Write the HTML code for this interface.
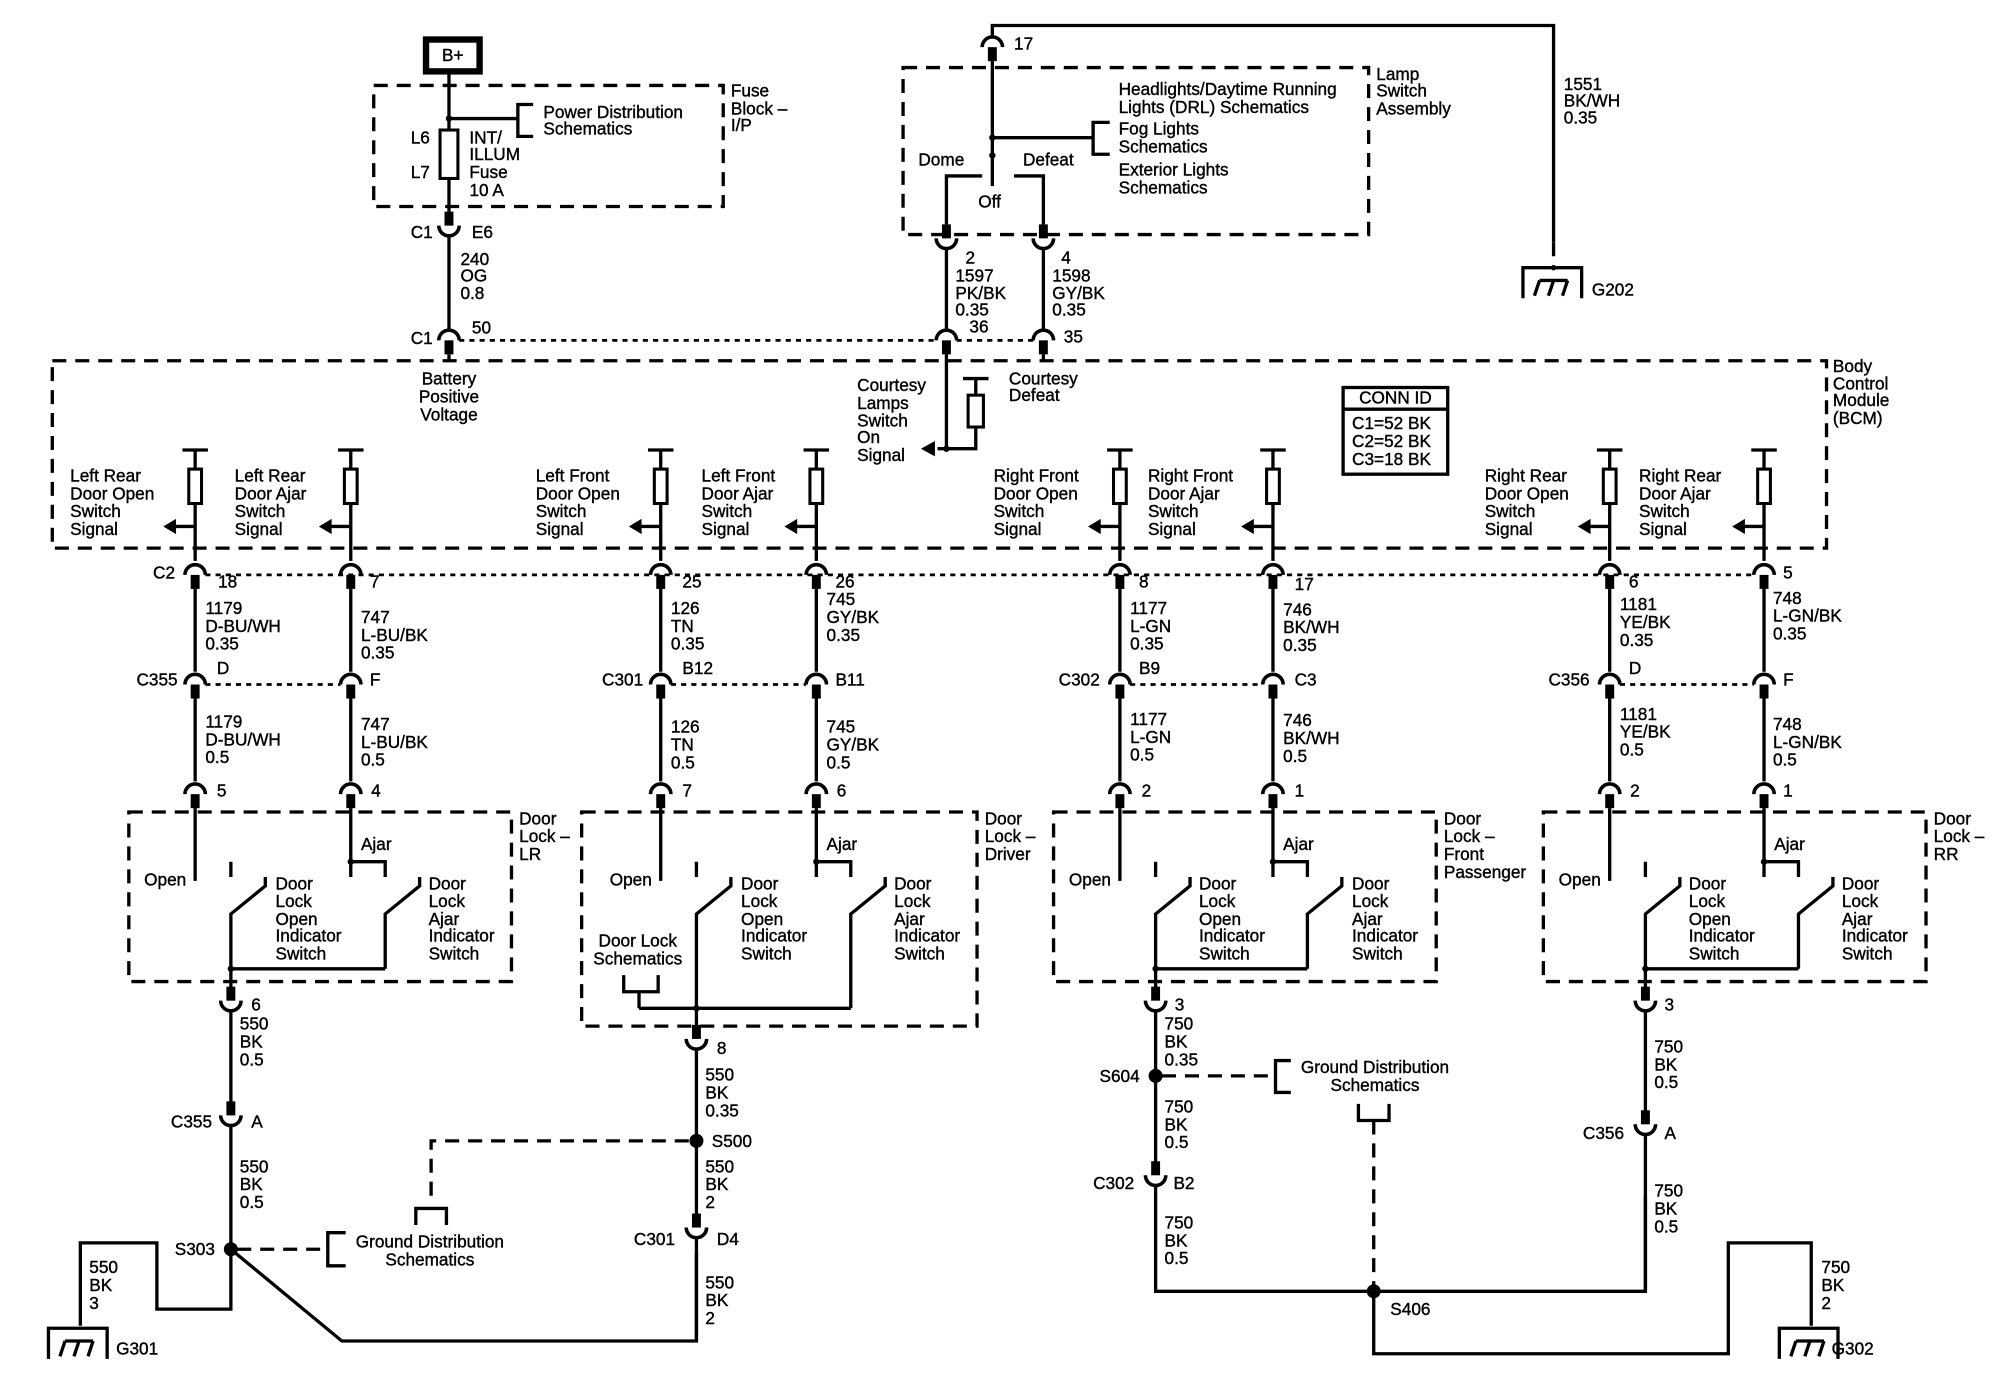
<!DOCTYPE html>
<html><head><meta charset="utf-8"><style>
html,body{margin:0;padding:0;background:#fff;}
svg{display:block;}
text{font-family:"Liberation Sans",Arial,sans-serif;font-size:13.5px;fill:#000;stroke:#000;stroke-width:0.3;dominant-baseline:central;}
.l{stroke:#000;stroke-width:2.6;fill:none;}
.d{stroke:#000;stroke-width:2.6;fill:none;stroke-dasharray:11 7;}
.o{stroke:#000;stroke-width:2.2;fill:none;stroke-dasharray:4 4;}
.m{text-anchor:middle;}
</style></head><body>
<svg width="2000" height="1392" viewBox="0 0 1568 1092" preserveAspectRatio="none" xmlns="http://www.w3.org/2000/svg">
<defs>
<g id="dn"><path d="M-8 5 A8 8 0 0 1 8 5" fill="none" stroke="#000" stroke-width="2.8"/><rect x="-3.5" y="5" width="7" height="11" fill="#000"/></g>
<g id="up"><rect x="-3.5" y="-16" width="7" height="11" fill="#000"/><path d="M-8 -5 A8 8 0 0 0 8 -5" fill="none" stroke="#000" stroke-width="2.8"/></g>
<g id="in"><path d="M-10 0 H10 M0 0 V15" class="l"/><rect x="-5" y="15" width="10" height="27" fill="#fff" stroke="#000" stroke-width="2.4"/><path d="M0 42 V87" class="l"/><path d="M0 60 H-17" class="l"/><polygon points="-25,60 -15,54 -15,66" fill="#000"/></g>
<g id="gnd"><path d="M-23 24 V0 H23 V24" class="l"/><path d="M-14 22 L-10 10 M-3 22 L1 10 M8 22 L12 10 M-10 10 H12" class="l" stroke-width="2.2"/></g>
</defs>

<!-- B+ and fuse block -->
<rect x="334" y="31" width="42" height="25" fill="none" stroke="#000" stroke-width="5"/>
<text x="355" y="43" class="m">B+</text>
<rect x="293" y="67" width="274" height="95" class="d"/>
<path d="M352 58 V166" class="l"/>
<circle cx="352" cy="93" r="2.5"/>
<path d="M352 93 H406 M418 82 H406 V107 H418" class="l"/>
<rect x="345" y="102" width="14" height="38" fill="#fff" stroke="#000" stroke-width="2.4"/>
<text x="426" y="88">Power Distribution</text><text x="426" y="101">Schematics</text>
<text x="322" y="108">L6</text><text x="322" y="135">L7</text>
<text x="368" y="108">INT/</text><text x="368" y="121">ILLUM</text><text x="368" y="135">Fuse</text><text x="368" y="149">10 A</text>
<text x="573" y="71">Fuse</text><text x="573" y="85">Block –</text><text x="573" y="98">I/P</text>
<use href="#up" x="352" y="182"/>
<path d="M352 185 V259" class="l"/>
<text x="322" y="182">C1</text><text x="370" y="182">E6</text>
<text x="361" y="203">240</text><text x="361" y="216">OG</text><text x="361" y="230">0.8</text>
<use href="#dn" x="352" y="262"/>
<text x="322" y="265">C1</text><text x="370" y="257">50</text>
<path d="M360 267 H734 M750 267 H810" class="o"/>

<!-- Lamp switch -->
<path d="M778 28 V20 H1218 V190" class="l"/>
<path d="M1218 190 V212" class="d"/>
<use href="#gnd" x="1217" y="210"/>
<text x="1248" y="227">G202</text>
<text x="1226" y="66">1551</text><text x="1226" y="79">BK/WH</text><text x="1226" y="92">0.35</text>
<use href="#dn" x="778" y="32"/>
<text x="795" y="34">17</text>
<rect x="708" y="53" width="365" height="131" class="d"/>
<path d="M778 48 V146" class="l"/>
<circle cx="778" cy="108" r="2.5"/><circle cx="778" cy="122" r="2.5"/>
<path d="M778 108 H857 M870 96 H857 V121 H870" class="l"/>
<text x="877" y="70">Headlights/Daytime Running</text><text x="877" y="84">Lights (DRL) Schematics</text>
<text x="877" y="101">Fog Lights</text><text x="877" y="115">Schematics</text>
<text x="877" y="133">Exterior Lights</text><text x="877" y="147">Schematics</text>
<text x="1079" y="58">Lamp</text><text x="1079" y="71">Switch</text><text x="1079" y="85">Assembly</text>
<text x="720" y="125">Dome</text><text x="802" y="125">Defeat</text><text x="767" y="158">Off</text>
<path d="M770 138 H742 V176 M795 138 H818 V176" class="l"/>
<use href="#up" x="742" y="192"/><use href="#up" x="818" y="192"/>
<path d="M742 195 V259 M818 195 V259" class="l"/>
<text x="757" y="202">2</text><text x="832" y="202">4</text>
<text x="749" y="216">1597</text><text x="749" y="230">PK/BK</text><text x="749" y="243">0.35</text>
<text x="760" y="256">36</text>
<text x="825" y="216">1598</text><text x="825" y="230">GY/BK</text><text x="825" y="243">0.35</text>
<text x="834" y="264">35</text>
<use href="#dn" x="742" y="262"/><use href="#dn" x="818" y="262"/>

<!-- BCM -->
<rect x="41" y="283" width="1391" height="147" class="d"/>
<path d="M352 278 V283 M818 278 V283" class="l"/>
<text x="352" y="297" class="m">Battery</text><text x="352" y="311" class="m">Positive</text><text x="352" y="325" class="m">Voltage</text>
<text x="1437" y="287">Body</text><text x="1437" y="301">Control</text><text x="1437" y="314">Module</text><text x="1437" y="328">(BCM)</text>
<path d="M742 278 V352 H735 M755 297 H775 M765 297 V310 M765 335 V352 H742" class="l"/>
<circle cx="742" cy="352" r="2.5"/>
<rect x="759" y="310" width="12" height="25" fill="#fff" stroke="#000" stroke-width="2.4"/>
<polygon points="722,352 733,346 733,358" fill="#000"/>
<text x="672" y="302">Courtesy</text><text x="672" y="316">Lamps</text><text x="672" y="330">Switch</text><text x="672" y="343">On</text><text x="672" y="357">Signal</text>
<text x="791" y="297">Courtesy</text><text x="791" y="310">Defeat</text>
<rect x="1053" y="304" width="82" height="68" fill="none" stroke="#000" stroke-width="2.6"/>
<path d="M1053 321 H1135" class="l"/>
<text x="1094" y="312" class="m">CONN ID</text>
<text x="1060" y="332">C1=52 BK</text><text x="1060" y="346">C2=52 BK</text><text x="1060" y="360">C3=18 BK</text>

<use href="#in" x="153" y="353"/><use href="#in" x="275" y="353"/>
<use href="#in" x="518" y="353"/><use href="#in" x="640" y="353"/>
<use href="#in" x="878" y="353"/><use href="#in" x="998" y="353"/>
<use href="#in" x="1262" y="353"/><use href="#in" x="1383" y="353"/>

<text x="55" y="373">Left Rear</text><text x="55" y="387">Door Open</text><text x="55" y="401">Switch</text><text x="55" y="415">Signal</text>
<text x="184" y="373">Left Rear</text><text x="184" y="387">Door Ajar</text><text x="184" y="401">Switch</text><text x="184" y="415">Signal</text>
<text x="420" y="373">Left Front</text><text x="420" y="387">Door Open</text><text x="420" y="401">Switch</text><text x="420" y="415">Signal</text>
<text x="550" y="373">Left Front</text><text x="550" y="387">Door Ajar</text><text x="550" y="401">Switch</text><text x="550" y="415">Signal</text>
<text x="779" y="373">Right Front</text><text x="779" y="387">Door Open</text><text x="779" y="401">Switch</text><text x="779" y="415">Signal</text>
<text x="900" y="373">Right Front</text><text x="900" y="387">Door Ajar</text><text x="900" y="401">Switch</text><text x="900" y="415">Signal</text>
<text x="1164" y="373">Right Rear</text><text x="1164" y="387">Door Open</text><text x="1164" y="401">Switch</text><text x="1164" y="415">Signal</text>
<text x="1285" y="373">Right Rear</text><text x="1285" y="387">Door Ajar</text><text x="1285" y="401">Switch</text><text x="1285" y="415">Signal</text>

<!-- C2 row -->
<path d="M161 451 H1375" class="o"/>
<g>
<use href="#dn" x="153" y="446"/><use href="#dn" x="275" y="446"/><use href="#dn" x="518" y="446"/><use href="#dn" x="640" y="446"/>
<use href="#dn" x="878" y="446"/><use href="#dn" x="998" y="446"/><use href="#dn" x="1262" y="446"/><use href="#dn" x="1383" y="446"/>
<use href="#dn" x="153" y="532"/><use href="#dn" x="275" y="532"/><use href="#dn" x="518" y="532"/><use href="#dn" x="640" y="532"/>
<use href="#dn" x="878" y="532"/><use href="#dn" x="998" y="532"/><use href="#dn" x="1262" y="532"/><use href="#dn" x="1383" y="532"/>
<use href="#dn" x="153" y="618"/><use href="#dn" x="275" y="618"/><use href="#dn" x="518" y="618"/><use href="#dn" x="640" y="618"/>
<use href="#dn" x="878" y="618"/><use href="#dn" x="998" y="618"/><use href="#dn" x="1262" y="618"/><use href="#dn" x="1383" y="618"/>
</g>
<path d="M153 462 V527 M275 462 V527 M518 462 V527 M640 462 V527 M878 462 V527 M998 462 V527 M1262 462 V527 M1383 462 V527" class="l"/>
<path d="M153 548 V613 M275 548 V613 M518 548 V613 M640 548 V613 M878 548 V613 M998 548 V613 M1262 548 V613 M1383 548 V613" class="l"/>
<path d="M161 537 H267 M526 537 H632 M886 537 H990 M1270 537 H1375" class="o"/>
<text x="120" y="449">C2</text>
<text x="171" y="456">18</text><text x="290" y="456">7</text><text x="535" y="456">25</text><text x="655" y="456">26</text>
<text x="893" y="456">8</text><text x="1015" y="458">17</text><text x="1277" y="456">6</text><text x="1398" y="449">5</text>

<text x="161" y="477">1179</text><text x="161" y="491">D-BU/WH</text><text x="161" y="505">0.35</text>
<text x="283" y="484">747</text><text x="283" y="498">L-BU/BK</text><text x="283" y="512">0.35</text>
<text x="526" y="477">126</text><text x="526" y="491">TN</text><text x="526" y="505">0.35</text>
<text x="648" y="470">745</text><text x="648" y="484">GY/BK</text><text x="648" y="498">0.35</text>
<text x="886" y="477">1177</text><text x="886" y="491">L-GN</text><text x="886" y="505">0.35</text>
<text x="1006" y="478">746</text><text x="1006" y="492">BK/WH</text><text x="1006" y="506">0.35</text>
<text x="1270" y="474">1181</text><text x="1270" y="488">YE/BK</text><text x="1270" y="502">0.35</text>
<text x="1390" y="469">748</text><text x="1390" y="483">L-GN/BK</text><text x="1390" y="497">0.35</text>

<text x="107" y="533">C355</text><text x="170" y="524">D</text><text x="290" y="533">F</text>
<text x="472" y="533">C301</text><text x="535" y="524">B12</text><text x="655" y="533">B11</text>
<text x="830" y="533">C302</text><text x="893" y="524">B9</text><text x="1015" y="533">C3</text>
<text x="1214" y="533">C356</text><text x="1277" y="524">D</text><text x="1398" y="533">F</text>

<text x="161" y="566">1179</text><text x="161" y="580">D-BU/WH</text><text x="161" y="594">0.5</text>
<text x="283" y="568">747</text><text x="283" y="582">L-BU/BK</text><text x="283" y="596">0.5</text>
<text x="526" y="570">126</text><text x="526" y="584">TN</text><text x="526" y="598">0.5</text>
<text x="648" y="570">745</text><text x="648" y="584">GY/BK</text><text x="648" y="598">0.5</text>
<text x="886" y="564">1177</text><text x="886" y="578">L-GN</text><text x="886" y="592">0.5</text>
<text x="1006" y="565">746</text><text x="1006" y="579">BK/WH</text><text x="1006" y="593">0.5</text>
<text x="1270" y="560">1181</text><text x="1270" y="574">YE/BK</text><text x="1270" y="588">0.5</text>
<text x="1390" y="568">748</text><text x="1390" y="582">L-GN/BK</text><text x="1390" y="596">0.5</text>

<text x="170" y="620">5</text><text x="291" y="620">4</text><text x="535" y="620">7</text><text x="656" y="620">6</text>
<text x="895" y="620">2</text><text x="1015" y="620">1</text><text x="1278" y="620">2</text><text x="1398" y="620">1</text>

<!-- Door lock boxes -->
<rect x="101" y="637" width="300" height="133" class="d"/>
<rect x="456" y="637" width="310" height="168" class="d"/>
<rect x="826" y="637" width="300" height="133" class="d"/>
<rect x="1210" y="637" width="300" height="133" class="d"/>

<text x="407" y="642">Door</text><text x="407" y="656">Lock –</text><text x="407" y="670">LR</text>
<text x="772" y="642">Door</text><text x="772" y="656">Lock –</text><text x="772" y="670">Driver</text>
<text x="1132" y="642">Door</text><text x="1132" y="656">Lock –</text><text x="1132" y="670">Front</text><text x="1132" y="684">Passenger</text>
<text x="1516" y="642">Door</text><text x="1516" y="656">Lock –</text><text x="1516" y="670">RR</text>

<!-- LR -->
<path d="M153 634 V691 M181 676 V688 M181 760 V717 L208 695 V688 M275 634 V688 M275 676 H302 V688 M302 760 V717 L329 695 V688 M181 760 H302 M181 760 V776" class="l"/>
<circle cx="275" cy="676" r="2.5"/><circle cx="181" cy="760" r="2.5"/>
<text x="113" y="690">Open</text><text x="283" y="662">Ajar</text>
<text x="216" y="693">Door</text><text x="216" y="707">Lock</text><text x="216" y="721">Open</text><text x="216" y="734">Indicator</text><text x="216" y="748">Switch</text>
<text x="336" y="693">Door</text><text x="336" y="707">Lock</text><text x="336" y="721">Ajar</text><text x="336" y="734">Indicator</text><text x="336" y="748">Switch</text>

<!-- Driver -->
<path d="M518 634 V691 M546 676 V688 M546 791 V717 L573 695 V688 M640 634 V688 M640 676 H667 V688 M667 791 V717 L694 695 V688 M501 791 H667 M489 765 V778 H516 V765 M501 778 V791 M546 791 V806" class="l"/>
<circle cx="640" cy="676" r="2.5"/><circle cx="546" cy="791" r="2.5"/>
<text x="478" y="690">Open</text><text x="648" y="662">Ajar</text>
<text x="500" y="738" class="m">Door Lock</text><text x="500" y="752" class="m">Schematics</text>
<text x="581" y="693">Door</text><text x="581" y="707">Lock</text><text x="581" y="721">Open</text><text x="581" y="734">Indicator</text><text x="581" y="748">Switch</text>
<text x="701" y="693">Door</text><text x="701" y="707">Lock</text><text x="701" y="721">Ajar</text><text x="701" y="734">Indicator</text><text x="701" y="748">Switch</text>

<!-- FP -->
<path d="M878 634 V691 M906 676 V688 M906 760 V717 L933 695 V688 M998 634 V688 M998 676 H1025 V688 M1025 760 V717 L1052 695 V688 M906 760 H1025 M906 760 V776" class="l"/>
<circle cx="998" cy="676" r="2.5"/><circle cx="906" cy="760" r="2.5"/>
<text x="838" y="690">Open</text><text x="1006" y="662">Ajar</text>
<text x="940" y="693">Door</text><text x="940" y="707">Lock</text><text x="940" y="721">Open</text><text x="940" y="734">Indicator</text><text x="940" y="748">Switch</text>
<text x="1060" y="693">Door</text><text x="1060" y="707">Lock</text><text x="1060" y="721">Ajar</text><text x="1060" y="734">Indicator</text><text x="1060" y="748">Switch</text>

<!-- RR -->
<path d="M1262 634 V691 M1290 676 V688 M1290 760 V717 L1317 695 V688 M1383 634 V688 M1383 676 H1410 V688 M1410 760 V717 L1437 695 V688 M1290 760 H1410 M1290 760 V776" class="l"/>
<circle cx="1383" cy="676" r="2.5"/><circle cx="1290" cy="760" r="2.5"/>
<text x="1222" y="690">Open</text><text x="1391" y="662">Ajar</text>
<text x="1324" y="693">Door</text><text x="1324" y="707">Lock</text><text x="1324" y="721">Open</text><text x="1324" y="734">Indicator</text><text x="1324" y="748">Switch</text>
<text x="1444" y="693">Door</text><text x="1444" y="707">Lock</text><text x="1444" y="721">Ajar</text><text x="1444" y="734">Indicator</text><text x="1444" y="748">Switch</text>

<!-- bottom pins -->
<use href="#up" x="181" y="790"/><use href="#up" x="546" y="820"/><use href="#up" x="906" y="790"/><use href="#up" x="1290" y="790"/>
<text x="197" y="788">6</text><text x="562" y="822">8</text><text x="921" y="788">3</text><text x="1305" y="788">3</text>

<!-- LR ground -->
<path d="M181 793 V865 M181 883 V1027 H123 V975 H63 V1040" class="l"/>
<use href="#up" x="181" y="880"/>
<text x="188" y="803">550</text><text x="188" y="817">BK</text><text x="188" y="831">0.5</text>
<text x="134" y="880">C355</text><text x="197" y="880">A</text>
<text x="188" y="915">550</text><text x="188" y="929">BK</text><text x="188" y="943">0.5</text>
<circle cx="181" cy="980" r="5.5"/>
<text x="137" y="980">S303</text>
<path d="M186 980 H257" class="d"/>
<path d="M271 967 H257 V993 H271" class="l"/>
<text x="337" y="974" class="m">Ground Distribution</text><text x="337" y="988" class="m">Schematics</text>
<text x="70" y="994">550</text><text x="70" y="1008">BK</text><text x="70" y="1022">3</text>
<use href="#gnd" x="61" y="1042"/>
<text x="91" y="1058">G301</text>
<path d="M181 980 L268 1052 H546 V983" class="l"/>

<!-- driver ground -->
<path d="M546 823 V953 M546 971 V1052" class="l"/>
<use href="#up" x="546" y="968"/>
<text x="553" y="843">550</text><text x="553" y="857">BK</text><text x="553" y="871">0.35</text>
<circle cx="546" cy="895" r="5.5"/>
<text x="558" y="895">S500</text>
<path d="M540 895 H338 V945" class="d"/>
<path d="M326 961 V948 H350 V961" class="l"/>
<text x="553" y="915">550</text><text x="553" y="929">BK</text><text x="553" y="943">2</text>
<text x="497" y="972">C301</text><text x="562" y="972">D4</text>
<text x="553" y="1006">550</text><text x="553" y="1020">BK</text><text x="553" y="1034">2</text>

<!-- FP ground -->
<path d="M906 793 V912 M906 930 V1013 H1290 V938" class="l"/>
<use href="#up" x="906" y="927"/>
<text x="913" y="803">750</text><text x="913" y="817">BK</text><text x="913" y="831">0.35</text>
<circle cx="906" cy="844" r="5.5"/>
<text x="862" y="844">S604</text>
<path d="M911 844 H1000" class="d"/>
<path d="M1012 832 H1000 V857 H1012" class="l"/>
<text x="1078" y="837" class="m">Ground Distribution</text><text x="1078" y="851" class="m">Schematics</text>
<path d="M1065 866 V879 H1089 V866" class="l"/>
<path d="M1077 879 V1013" class="d"/>
<text x="913" y="868">750</text><text x="913" y="882">BK</text><text x="913" y="896">0.5</text>
<text x="857" y="928">C302</text><text x="920" y="928">B2</text>
<text x="913" y="959">750</text><text x="913" y="973">BK</text><text x="913" y="987">0.5</text>
<circle cx="1077" cy="1013" r="5.5"/>
<text x="1090" y="1027">S406</text>
<path d="M1077 1013 V1062 H1355 V975 H1420 V1040" class="l"/>
<use href="#gnd" x="1418" y="1042"/>
<text x="1436" y="1058">G302</text>
<text x="1428" y="994">750</text><text x="1428" y="1008">BK</text><text x="1428" y="1022">2</text>

<!-- RR ground -->
<path d="M1290 793 V872 M1290 890 V1013" class="l"/>
<use href="#up" x="1290" y="887"/>
<text x="1297" y="821">750</text><text x="1297" y="835">BK</text><text x="1297" y="849">0.5</text>
<text x="1241" y="889">C356</text><text x="1305" y="889">A</text>
<text x="1297" y="934">750</text><text x="1297" y="948">BK</text><text x="1297" y="962">0.5</text>
</svg>
</body></html>
